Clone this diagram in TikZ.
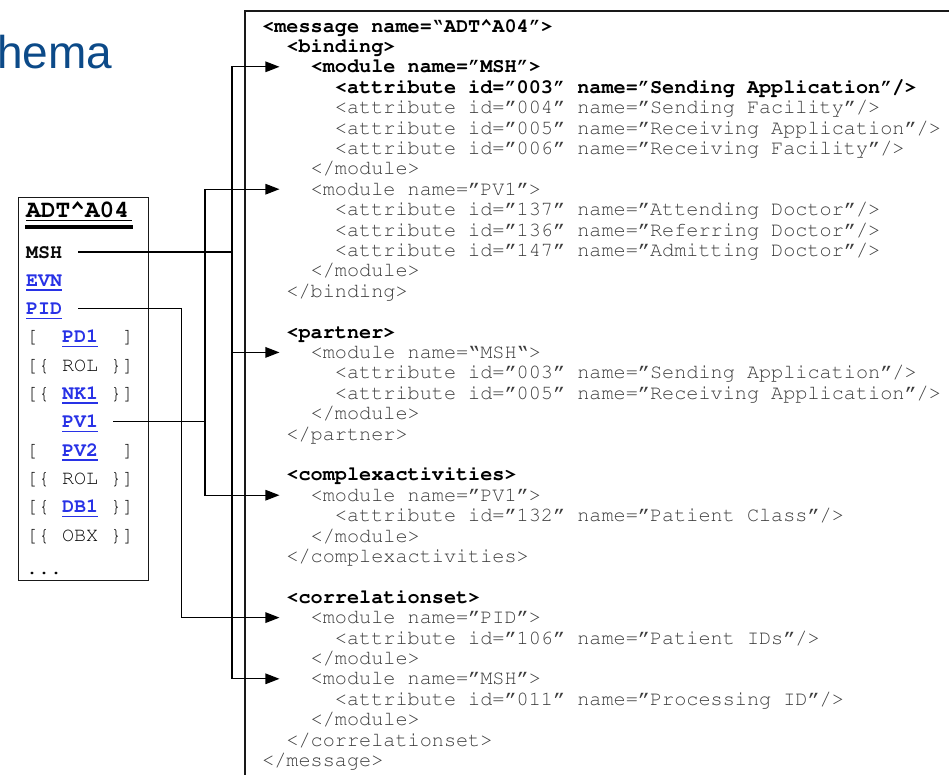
\documentclass[tikz,border=0pt]{standalone}
\usepackage[T1,TU]{fontenc}
\usepackage{fontspec}
\usetikzlibrary{arrows.meta}
\newfontfamily\titlefont{Liberation Sans}
% Courier (URW Nimbus Mono) for the listing and the segment table
\newcommand\cour{\fontencoding{T1}\fontfamily{pcr}\selectfont}
\definecolor{titleblue}{RGB}{12,74,136}
\definecolor{linkblue}{RGB}{40,50,230}
\definecolor{codegray}{RGB}{60,60,60}
\definecolor{segdark}{RGB}{10,10,10}

% value in closing double quotes
\newcommand\qv[1]{\textquotedblright#1\textquotedblright}
% blue, bold, underlined segment name
\newcommand\hlink[1]{{\color{linkblue}\bfseries\setbox0\hbox{#1}\rlap{\rule[-4.5pt]{\wd0}{1.6pt}}\box0}}
% one line of the XML listing: name, line number, indent level, style, text
\newcommand\xline[5]{\node[#4] (#1) at ({262+24.24*#3},{32+20.4*#2}) {#5};}
% one row of the message structure: name, row number, text
\newcommand\segrow[3]{\node[seg] (#1) at (26,{258+28.3*#2}) {#3};}

\begin{document}
\begin{tikzpicture}[x=1pt,y=-1pt,
  code/.style={inner sep=0pt, anchor=base west, text=codegray,
    font=\cour\fontsize{20.2}{20.4}\selectfont},
  codeb/.style={code, text=black,
    font=\cour\fontsize{20.2}{20.4}\bfseries\selectfont},
  seg/.style={inner sep=0pt, anchor=base west, text=segdark,
    font=\cour\fontsize{20}{20}\selectfont},
  frame/.style={line width=1.3pt, draw=black!90},
  conn/.style={line width=1.3pt, draw=black},
  arr/.style={conn, -{Triangle[length=14pt,width=10.5pt]}}]
\useasboundingbox (0,0) rectangle (949,774);

% heading (runs off the left edge)
\node[inner sep=0pt, anchor=base west, text=titleblue,
  font=\titlefont\fontsize{46}{46}\selectfont] (title) at (-3,68) {hema};

% frame of the XML listing, running off the right and bottom edges
\draw[frame] (245,800) -- (245,11) -- (970,11);

% XML listing
\xline{l0}{0}{0}{codeb}{<message name=\textquotedblleft ADT\textasciicircum A04\textquotedblright>}
\xline{l1}{1}{1}{codeb}{<binding>}
\xline{l2}{2}{2}{codeb}{<module name=\qv{MSH}>}
\xline{l3}{3}{3}{codeb}{<attribute id=\qv{003} name=\qv{Sending Application}/>}
\xline{l4}{4}{3}{code}{<attribute id=\qv{004} name=\qv{Sending Facility}/>}
\xline{l5}{5}{3}{code}{<attribute id=\qv{005} name=\qv{Receiving Application}/>}
\xline{l6}{6}{3}{code}{<attribute id=\qv{006} name=\qv{Receiving Facility}/>}
\xline{l7}{7}{2}{code}{</module>}
\xline{l8}{8}{2}{code}{<module name=\qv{PV1}>}
\xline{l9}{9}{3}{code}{<attribute id=\qv{137} name=\qv{Attending Doctor}/>}
\xline{l10}{10}{3}{code}{<attribute id=\qv{136} name=\qv{Referring Doctor}/>}
\xline{l11}{11}{3}{code}{<attribute id=\qv{147} name=\qv{Admitting Doctor}/>}
\xline{l12}{12}{2}{code}{</module>}
\xline{l13}{13}{1}{code}{</binding>}
\xline{l15}{15}{1}{codeb}{<partner>}
\xline{l16}{16}{2}{code}{<module name=\textquotedblleft MSH\textquotedblleft>}
\xline{l17}{17}{3}{code}{<attribute id=\qv{003} name=\qv{Sending Application}/>}
\xline{l18}{18}{3}{code}{<attribute id=\qv{005} name=\qv{Receiving Application}/>}
\xline{l19}{19}{2}{code}{</module>}
\xline{l20}{20}{1}{code}{</partner>}
\xline{l22}{22}{1}{codeb}{<complexactivities>}
\xline{l23}{23}{2}{code}{<module name=\qv{PV1}>}
\xline{l24}{24}{3}{code}{<attribute id=\qv{132} name=\qv{Patient Class}/>}
\xline{l25}{25}{2}{code}{</module>}
\xline{l26}{26}{1}{code}{</complexactivities>}
\xline{l28}{28}{1}{codeb}{<correlationset>}
\xline{l29}{29}{2}{code}{<module name=\qv{PID}>}
\xline{l30}{30}{3}{code}{<attribute id=\qv{106} name=\qv{Patient IDs}/>}
\xline{l31}{31}{2}{code}{</module>}
\xline{l32}{32}{2}{code}{<module name=\qv{MSH}>}
\xline{l33}{33}{3}{code}{<attribute id=\qv{011} name=\qv{Processing ID}/>}
\xline{l34}{34}{2}{code}{</module>}
\xline{l35}{35}{1}{code}{</correlationset>}
\xline{l36}{36}{0}{code}{</message>}

% message structure box
\node[frame, draw, inner sep=0pt, anchor=north west,
  minimum width=130pt, minimum height=383pt] (adtbox) at (18,197) {};
\node[inner sep=0pt, anchor=base west, text=black,
  font=\cour\fontsize{24.5}{24.5}\bfseries\selectfont] (hdr) at (26,217) {ADT\textasciicircum A04};
\draw[line width=1pt] ([yshift=-3pt]hdr.base west) -- ([shift={(3pt,-3pt)}]hdr.base east);
\draw[line width=3.6pt] ([shift={(-1pt,-10pt)}]hdr.base west) -- ([shift={(4pt,-10pt)}]hdr.base east);

\segrow{msh}{0}{\bfseries MSH}
\segrow{evn}{1}{\hlink{EVN}}
\segrow{pid}{2}{\hlink{PID}}
\segrow{pdone}{3}{[~~\hlink{PD1}~~]}
\segrow{rolA}{4}{[\{~ROL~\}]}
\segrow{nkone}{5}{[\{~\hlink{NK1}~\}]}
\segrow{pvone}{6}{~~~\hlink{PV1}}
\segrow{pvtwo}{7}{[~~\hlink{PV2}~~]}
\segrow{rolB}{8}{[\{~ROL~\}]}
\segrow{dbone}{9}{[\{~\hlink{DB1}~\}]}
\segrow{obx}{10}{[\{~OBX~\}]}
\node[seg] (dots) at (26,574) {...};

% columns of the connectors
\coordinate (xpid) at (181.5,0);
\coordinate (xpv) at (205,0);
\coordinate (xmsh) at (232,0);

% start points beside the segment names
\coordinate (smsh) at ([shift={(16pt,6pt)}]msh.base east);
\coordinate (spid) at ([shift={(16pt,6pt)}]pid.base east);
\coordinate (spv) at ([shift={(15pt,6pt)}]pvone.base east);

% arrow tips in front of the module lines
\foreach \t in {l2,l8,l16,l23,l29,l32}
  \coordinate (t\t) at ([shift={(-31pt,6pt)}]\t.base west);

% MSH
\draw[arr] (smsh) -| (xmsh |- tl2) -- (tl2);
\draw[arr] (smsh) -| (xmsh |- tl16) -- (tl16);
\draw[arr] (smsh) -| (xmsh |- tl32) -- (tl32);
% PV1
\draw[arr] (spv) -| (xpv |- tl8) -- (tl8);
\draw[arr] (spv) -| (xpv |- tl23) -- (tl23);
% PID
\draw[arr] (spid) -| (xpid |- tl29) -- (tl29);
\end{tikzpicture}
\end{document}
